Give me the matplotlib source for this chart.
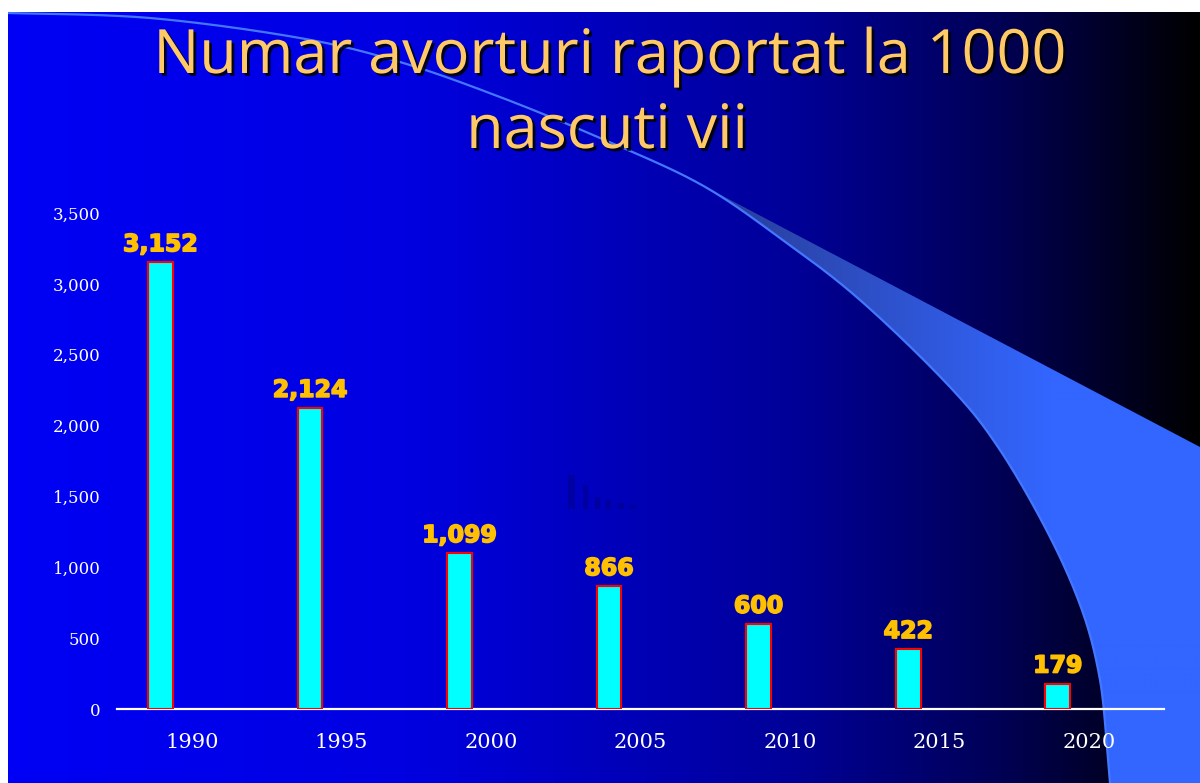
import matplotlib
matplotlib.use("Agg")
import matplotlib.pyplot as plt
import matplotlib.patheffects as pe
from matplotlib.patches import Polygon, Rectangle
import numpy as np

# data
years = ["1990", "1995", "2000", "2005", "2010", "2015", "2020"]
values = [3152, 2124, 1099, 866, 600, 422, 179]
yticks = [0, 500, 1000, 1500, 2000, 2500, 3000, 3500]
title_lines = ["Numar avorturi raportat la 1000", "nascuti vii"]

W, H = 1200, 783
fig = plt.figure(figsize=(12, 7.83), dpi=100, facecolor="white")


def smooth(pts, n=20):
    # catmull-rom through the control points
    p = np.vstack([pts[0], pts, pts[-1]])
    out = []
    for i in range(1, len(p) - 2):
        p0, p1, p2, p3 = p[i - 1], p[i], p[i + 1], p[i + 2]
        for t in np.linspace(0, 1, n, endpoint=False):
            t2, t3 = t * t, t * t * t
            out.append(0.5 * (2 * p1 + (-p0 + p2) * t + (2 * p0 - 5 * p1 + 4 * p2 - p3) * t2
                              + (-p0 + 3 * p1 - 3 * p2 + p3) * t3))
    out.append(p[-2])
    return np.array(out)


# ---- slide background (pixel coordinates) ----
bg = fig.add_axes([0, 0, 1, 1], zorder=0)
bg.set_xlim(0, W)
bg.set_ylim(H, 0)
bg.axis("off")

gx = np.linspace(8, W, 600)
blue = np.interp(gx, [8, 400, 500, 700, 800, 1000, 1200],
                 [245, 225, 208, 170, 150, 85, 0]) / 255.0
grad = np.zeros((2, len(gx), 3))
grad[:, :, 2] = blue
bg.imshow(grad, extent=[8, W, H, 12], aspect="auto", interpolation="bilinear")

# swoosh
ctrl = np.array([(8, 13), (150, 18), (300, 38), (400, 62), (500, 97),
                 (600, 138), (700, 184), (780, 238), (860, 300),
                 (950, 387), (1000, 450), (1050, 537), (1083, 613), (1100, 680),
                 (1107, 747), (1110, 783)], dtype=float)
curve = smooth(ctrl)
lower = curve[curve[:, 0] >= 700]
poly_pts = np.vstack([lower, [(W, H), (W, 447)]])
swoosh = Polygon(poly_pts, closed=True, facecolor="none", edgecolor="none")
bg.add_patch(swoosh)
sx = np.linspace(700, W, 300)
t = np.clip((sx - 720) / 330.0, 0, 1)
sg = np.zeros((2, len(sx), 3))
sg[:, :, 0] = 0.16 + 0.04 * t
sg[:, :, 1] = 0.24 + 0.16 * t
sg[:, :, 2] = 0.60 + 0.40 * t
im = bg.imshow(sg, extent=[700, W, H, 184], aspect="auto", interpolation="bilinear")
im.set_clip_path(swoosh)
bg.plot(curve[:, 0], curve[:, 1], color="#4477ff", lw=1.6, solid_capstyle="butt")

# faint clip-art icon in the middle of the slide
for x0, top, w in [(568, 475, 7), (583, 485, 5), (595, 497, 5), (606, 500, 5),
                   (618, 503, 6), (630, 505, 6)]:
    bg.add_patch(Rectangle((x0, top), w, 509 - top, facecolor="#00006a",
                           alpha=0.35, edgecolor="none"))

# ---- title ----
shadow = [pe.withSimplePatchShadow(offset=(2, -2), shadow_rgbFace="black", alpha=0.85)]
fig.text(610 / W, 1 - 73 / H, title_lines[0], ha="center", va="baseline",
         fontsize=44, color="#ffc966", family="Open Sans", path_effects=shadow, zorder=5)
fig.text(607 / W, 1 - 148 / H, title_lines[1], ha="center", va="baseline",
         fontsize=44, color="#ffc966", family="Open Sans", path_effects=shadow, zorder=5)

# ---- chart ----
ax = fig.add_axes([117 / W, 74 / H, (1164 - 117) / W, (709 - 213) / H], zorder=2)
ax.set_facecolor("none")
x = np.arange(len(years))
bx = x - 0.21
ax.bar(bx, values, width=0.165, color="#00ffff", edgecolor="#ff0000", linewidth=1.5,
       zorder=3)
heavy = [pe.withStroke(linewidth=1.2, foreground="#ffc000")]
for xi, v in zip(bx, values):
    ax.annotate(f"{v:,}", (xi, v), xytext=(0, 8), textcoords="offset points",
                ha="center", va="baseline", fontsize=17, fontweight="bold",
                family="DejaVu Sans", color="#ffc000", path_effects=heavy)

ax.set_xlim(-0.5, len(years) - 0.5)
ax.set_ylim(0, 3500)
ax.set_xticks(x)
ax.set_xticklabels(years, family="DejaVu Serif", fontsize=15, color="white")
ax.set_yticks(yticks)
ax.set_yticklabels([f"{v:,}" for v in yticks], family="DejaVu Serif", fontsize=12,
                   color="white")
ax.tick_params(axis="x", length=0, pad=17)
ax.tick_params(axis="y", length=0, pad=12)
for s in ["top", "right", "left"]:
    ax.spines[s].set_visible(False)
ax.spines["bottom"].set_color("white")
ax.spines["bottom"].set_linewidth(1.6)

fig.savefig("out.png", dpi=100, facecolor="white")
